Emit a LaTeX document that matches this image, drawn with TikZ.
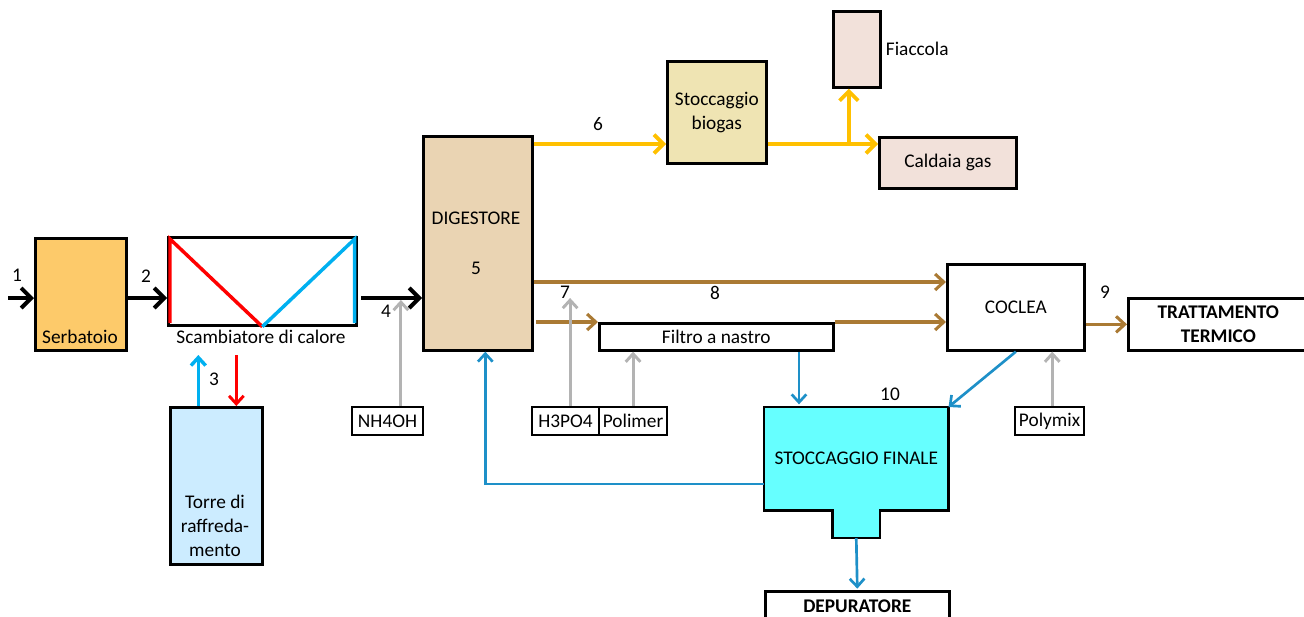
\documentclass[tikz,border=0pt]{standalone}
\usepackage{fontspec}
\setmainfont{Carlito}
\usetikzlibrary{arrows.meta}
\newcommand{\pxu}{0.75pt}

\begin{document}
\begin{tikzpicture}[x=0.75pt,y=-0.75pt,
  font=\fontsize{14.5}{18}\selectfont,
  box/.style={draw=black,line width=2pt,inner sep=0pt,anchor=north west,align=center},
  bold/.style={font=\fontsize{14.5}{18}\selectfont\bfseries},
  reagent/.style={box,line width=1.6pt,minimum height=28*\pxu},
  lbl/.style={inner sep=0pt},
  mainarr/.style={line width=3pt,-{Straight Barb[length=7.5pt,width=15pt]}},
  gasarr/.style={draw=goldline,line width=2.8pt,-{Straight Barb[length=7pt,width=14pt]}},
  sludgearr/.style={draw=brownline,line width=2.3pt,-{Straight Barb[length=6.5pt,width=12pt]}},
  backarr/.style={draw=blueline,line width=2pt,-{Straight Barb[length=6pt,width=11pt]}},
  dosearr/.style={draw=greyline,line width=2.2pt,-{Straight Barb[length=6pt,width=11pt]}},
  coldarr/.style={draw=skyline,line width=2.6pt,-{Straight Barb[length=6pt,width=11pt]}},
  hotarr/.style={draw=red,line width=2.2pt,{Straight Barb[length=6pt,width=11pt]}-}]
  \definecolor{serbfill}{HTML}{FDCA6A}
  \definecolor{torrefill}{HTML}{CCECFF}
  \definecolor{digfill}{HTML}{EAD4B3}
  \definecolor{biogfill}{HTML}{EFE4B3}
  \definecolor{gasfill}{HTML}{F2E1DA}
  \definecolor{stocfill}{HTML}{66FFFF}
  \definecolor{goldline}{HTML}{FFC000}
  \definecolor{brownline}{HTML}{AA7A34}
  \definecolor{blueline}{HTML}{1E90C8}
  \definecolor{greyline}{HTML}{B3B3B3}
  \definecolor{skyline}{HTML}{00B0F0}

  \useasboundingbox (0,0) rectangle (1304,617);

  \node[box,fill=serbfill,minimum width=91*\pxu,minimum height=112*\pxu] (serb) at (34,237) {};
  \node[lbl] (serbtxt) at (80,337) {Serbatoio};
  \node[box,minimum width=188*\pxu,minimum height=88*\pxu] (scamb) at (167,236) {};
  \node[lbl] (scambtxt) at (261,337) {Scambiatore di calore};
  \node[box,fill=torrefill,minimum width=92*\pxu,minimum height=157*\pxu] (torre) at (169,406) {};
  \node[lbl,align=center] (torretxt) at (215,526) {Torre di\\raffreda-\\mento};
  \node[box,fill=digfill,minimum width=109*\pxu,minimum height=214*\pxu] (dig) at (422,135) {};
  \node[lbl] (digtxt) at (476,218) {DIGESTORE};
  \node[lbl] (digno) at (476,268) {5};
  \node[box,fill=biogfill,minimum width=99*\pxu,minimum height=102*\pxu] (biog) at (666,60) {Stoccaggio\\biogas};
  \node[box,fill=gasfill,minimum width=47*\pxu,minimum height=76*\pxu] (fiac) at (832,10) {};
  \node[lbl,anchor=west] (fiactxt) at ([xshift=3pt]fiac.east) {Fiaccola};
  \node[box,fill=gasfill,minimum width=137*\pxu,minimum height=51*\pxu] (cald) at (878,136) {Caldaia gas};
  \node[box,minimum width=137*\pxu,minimum height=86*\pxu] (cocl) at (946,263) {COCLEA};
  \node[box,minimum width=234*\pxu,minimum height=27*\pxu] (filt) at (598,322) {Filtro a nastro};
  \node[box,bold,minimum width=180*\pxu,minimum height=52*\pxu] (tratt) at (1127,297) {TRATTAMENTO\\TERMICO};
  \node[box,bold,minimum width=184*\pxu,minimum height=30*\pxu] (depur) at (764,590) {DEPURATORE};

  \node[anchor=north west,inner sep=0pt,minimum width=184*\pxu,minimum height=103*\pxu] (stoc) at (764,407) {};
  \node[anchor=north,inner sep=0pt,minimum width=47*\pxu,minimum height=27*\pxu] (neck) at (stoc.south) {};
  \filldraw[fill=stocfill,line width=2pt] (stoc.north west) -- (stoc.north east) -- (stoc.south east)
    -- (neck.north east) -- (neck.south east) -- (neck.south west) -- (neck.north west)
    -- (stoc.south west) -- cycle;
  \node[lbl] (stoctxt) at (stoc) {STOCCAGGIO FINALE};

  \foreach \name/\xx/\ww/\txt in {nh/351/71/NH4OH, h3/531/67/H3PO4, pol/598/68/Polimer, polx/1014/69/Polymix}
    \node[reagent,minimum width=\ww*\pxu] (\name) at (\xx,406) {\txt};

  \foreach \n/\xx/\yy in {1/17/275, 2/146/276, 3/214/379, 4/386/311, 6/598/124,
                          7/565/292, 8/715/293, 9/1105/292, 10/890/394}
    \node[lbl] (num\n) at (\xx,\yy) {\n};

  % scambiatore
  \draw[red,line width=2.6pt] ([shift={(3,87)}]scamb.north west) -- ([shift={(3,3)}]scamb.north west) -- (scamb.south);
  \draw[skyline,line width=2.6pt] (scamb.south) -- ([shift={(-3,3)}]scamb.north east) -- ([shift={(-3,87)}]scamb.north east);

  \coordinate (feed) at (8,298);
  \coordinate (gas) at (0,144);
  \coordinate (liq) at (0,282);

  \draw[mainarr] (feed) -- (serb.west |- feed);
  \draw[mainarr] (serb.east |- feed) -- (scamb.west |- feed);
  \draw[mainarr,shorten <=2.5pt] (scamb.east |- feed) -- (dig.west |- feed);

  \draw[coldarr] ([xshift=-13.5pt]torre.north) -- ++(0,-51);
  \draw[hotarr] ([xshift=15pt]torre.north) -- ++(0,-51);

  \draw[gasarr] (dig.east |- gas) -- (biog.west |- gas);
  \draw[gasarr] (biog.east |- gas) -- (cald.west |- gas);
  \draw[gasarr] ([xshift=-6pt]fiac.south |- gas) -- ([xshift=-6pt]fiac.south);

  \draw[sludgearr] (dig.east |- liq) -- (cocl.west |- liq);
  \draw[sludgearr,shorten <=2pt] (dig.east |- filt.north) -- (filt.north west);
  \draw[sludgearr] (filt.north east) -- (cocl.west |- filt.north);
  \draw[sludgearr] (cocl.east |- tratt.west) -- (tratt.west);

  \draw[dosearr] ([xshift=10pt]nh.north) -- ++(0,-106);
  \draw[dosearr] ([xshift=3.4pt]h3.north) -- ++(0,-108);
  \draw[dosearr] (pol.north) -- (pol.north |- filt.south);
  \draw[dosearr] ([xshift=2pt]polx.north) -- ([xshift=2pt]polx.north |- cocl.south);

  \draw[backarr,shorten >=2pt] ([xshift=62pt]filt.south) -- ([xshift=62pt]filt.south |- stoc.north);
  \draw[backarr] (cocl.south) -- (stoc.north east);
  \draw[backarr,shorten >=1pt] (neck.south) -- (depur.north);
  \draw[backarr] ([yshift=-19pt]stoc.west) -| ([xshift=5.6pt]dig.south);
\end{tikzpicture}
\end{document}
